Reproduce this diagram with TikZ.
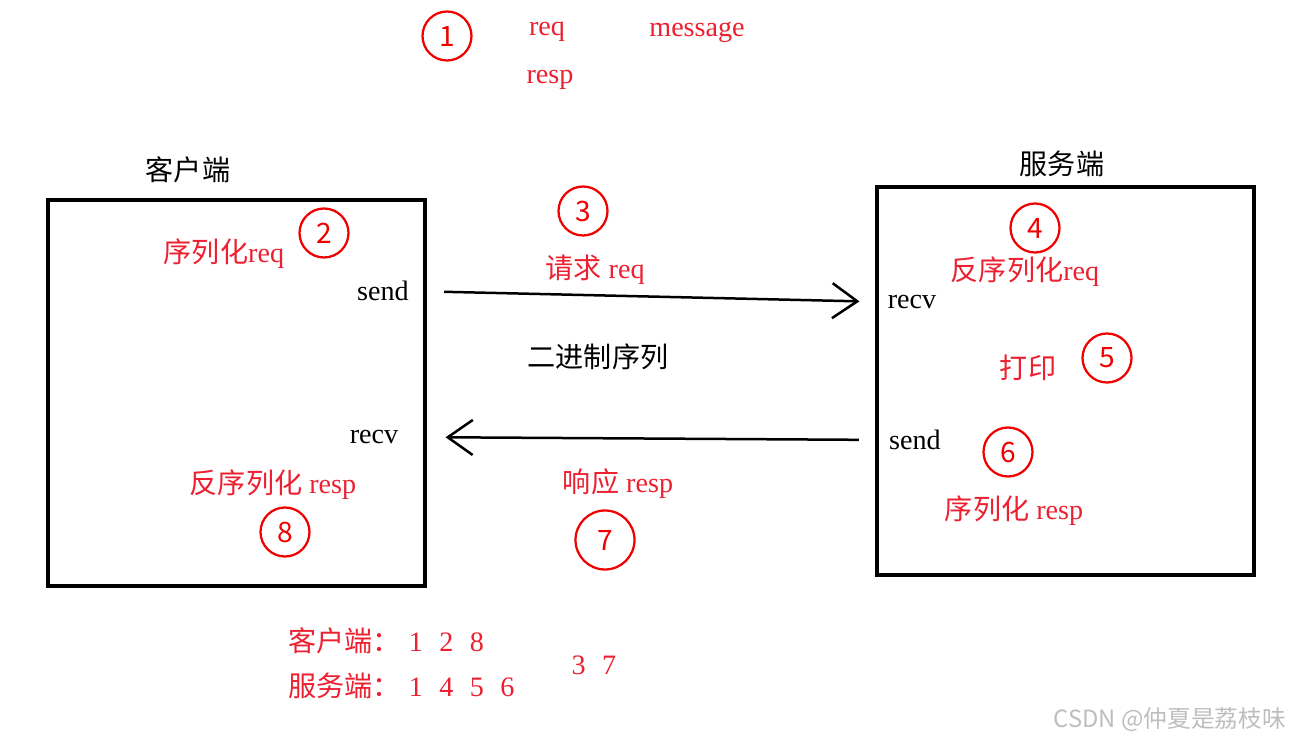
\documentclass[tikz,border=0pt]{standalone}
\usepackage{fontspec}
\setmainfont{Liberation Serif}
\newfontfamily\cjk{Noto Sans CJK SC}
\usetikzlibrary{arrows.meta,positioning}
\definecolor{InkRed}{RGB}{236,32,48}
\definecolor{PenRed}{RGB}{240,0,0}
\definecolor{WaterGray}{RGB}{190,190,190}
\newcommand{\zh}[1]{{\cjk #1}}
\tikzset{
  lbl/.style     ={inner sep=0pt, font=\fontsize{16}{18}\selectfont, text=black},
  redlbl/.style  ={lbl, text=InkRed},
  numcirc/.style ={circle, draw=PenRed, line width=.45mm, text=PenRed, minimum size=9.8mm,
                   inner sep=0pt, font=\cjk\fontsize{16}{18}\selectfont},
  panel/.style   ={rectangle, draw=black, line width=.7mm, inner sep=0pt},
  flow/.style    ={-{Straight Barb[length=5mm,width=7mm]}, draw=black, line width=.5mm},
}

\begin{document}
\begin{tikzpicture}[x=0.2mm,y=-0.2mm]
  \useasboundingbox (0,0) rectangle (1308,742);
  % step 1: message types
  \node[numcirc] (n1) at (447,36) {1};
  \node[redlbl] (req) at (547,32) {req};
  \node[redlbl] (msg) at (697,32) {message};
  \node[redlbl] (resp) at (550,80) {resp};
  % client side
  \node[lbl] (ctitle) at (188,170) {\zh{客户端}};
  \node[panel,minimum width=75.4mm,minimum height=77.2mm] (client) at (236.5,393) {};
  \node[numcirc] (n2) at (324,233) {2};
  \node[redlbl] (cser) at (224,254) {\zh{序列化}req};
  \node[lbl] (csend) at (383,291) {send};
  \node[lbl] (crecv) at (374,437) {recv};
  \node[redlbl] (cdes) at (273,485) {\zh{反序列化} resp};
  \node[numcirc] (n8) at (285,532) {8};
  % server side
  \node[lbl] (stitle) at (1062,164) {\zh{服务端}};
  \node[panel,minimum width=75.4mm,minimum height=77.6mm] (server) at (1065.5,381) {};
  \node[numcirc] (n4) at (1035,228) {4};
  \node[redlbl] (sdes) at (1025,272) {\zh{反序列化}req};
  \node[lbl] (srecv) at (912,302) {recv};
  \node[redlbl] (sprint) at (1028,368) {\zh{打印}};
  \node[numcirc] (n5) at (1107,358) {5};
  \node[lbl] (ssend) at (915,440) {send};
  \node[numcirc] (n6) at (1008,452) {6};
  \node[redlbl] (sser) at (1014,511) {\zh{序列化} resp};
  % transfer
  \node[numcirc] (n3) at (583,211) {3};
  \node[redlbl] (reqlbl) at (595,270) {\zh{请求} req};
  \node[lbl] (bin) at (598,357) {\zh{二进制序列}};
  \node[redlbl] (resplbl) at (618,484) {\zh{响应} resp};
  \node[numcirc,minimum size=11.8mm] (n7) at (605,540) {7};
  \draw[flow,shorten <=7mm,shorten >=5.6mm] (csend.east) -- (srecv.west);
  \draw[flow,shorten <=6mm,shorten >=9.4mm] (ssend.west) -- (crecv.east);
  % summary
  \node[redlbl,anchor=west] (csum) at (288,641) {\zh{客户端：}\hspace{1.6mm}1\hspace{3.3mm}2\hspace{3.3mm}8};
  \node[redlbl,anchor=west] (ssum) at (288,686) {\zh{服务端：}\hspace{1.6mm}1\hspace{3.3mm}4\hspace{3.3mm}5\hspace{3.3mm}6};
  \node[redlbl] (both) at (594,665) {3\hspace{3.3mm}7};
  \node[font=\cjk\fontsize{13.5}{15}\selectfont,text=WaterGray] (wm) at (1170,720) {CSDN @仲夏是荔枝味};
\end{tikzpicture}
\end{document}
